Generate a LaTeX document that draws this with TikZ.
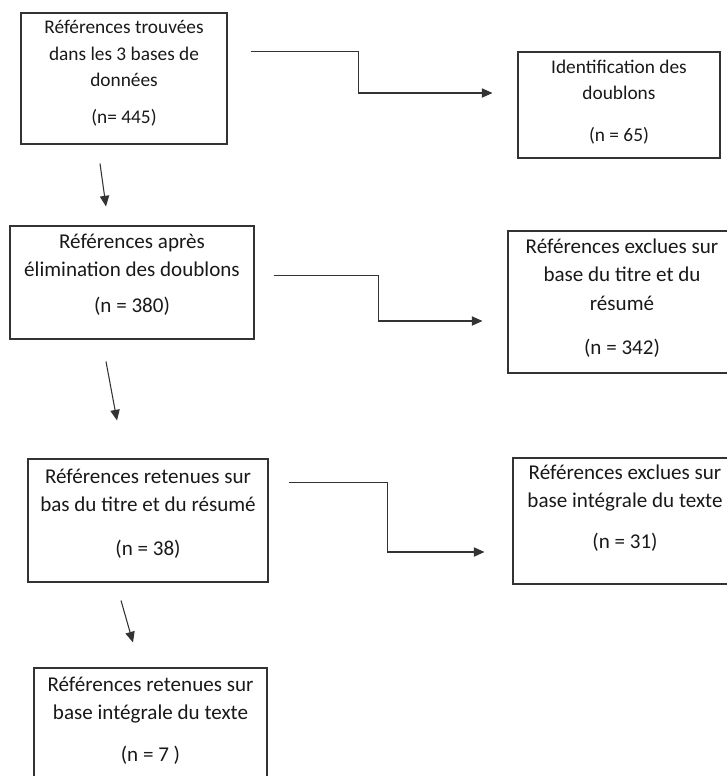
\documentclass[tikz,border=0pt]{standalone}
\usepackage{fontspec}
\setmainfont{Carlito}
\usetikzlibrary{arrows.meta,positioning}

\begin{document}
\begin{tikzpicture}[
    x=0.75pt, y=-0.75pt,
    box/.style={rectangle, draw=black!80, line width=0.8pt},
    txt/.style={align=center, inner sep=0pt, text=black!90, font=\fontsize{15.8}{21.3}\selectfont},
    txts/.style={txt, font=\fontsize{14.5}{19.6}\selectfont},
    arr/.style={-{Triangle[length=8pt, width=7pt]}, line width=0.8pt, draw=black!80}
  ]
    \useasboundingbox (0,0) rectangle (727,776);
    \clip (0,0) rectangle (727,776);
    \node[box, minimum width=154.5pt, minimum height=98.25pt] (trouv) at (124,78.5) {};
    \node[box, minimum width=151.5pt, minimum height=79.5pt] (doubl) at (619,105) {};
    \node[box, minimum width=183pt, minimum height=84.75pt] (apres) at (132,282.5) {};
    \node[box, minimum width=171pt, minimum height=106.5pt] (excl1) at (622,302) {};
    \node[box, minimum width=180pt, minimum height=92.25pt] (ret1) at (148,520.5) {};
    \node[box, minimum width=168pt, minimum height=94.5pt] (excl2) at (625,521) {};
    \node[box, minimum width=174.75pt, minimum height=91.5pt] (ret2) at (150.5,729) {};
    \node[txts, below=6pt of trouv.north] (trouvT) {Références trouvées\\dans les 3 bases de\\données\\[8.25pt](n= 445)};
    \node[txts, below=6pt of doubl.north] (doublT) {Identification des\\doublons\\[12pt](n = 65)};
    \node[txt, below=6pt of apres.north] (apresT) {Références après\\élimination des doublons\\[6pt](n = 380)};
    \node[txt, below=6pt of excl1.north] (excl1T) {Références exclues sur\\base du titre et du\\résumé\\[12pt](n = 342)};
    \node[txt, below=7.5pt of ret1.north] (ret1T) {Références retenues sur\\bas du titre et du résumé\\[12pt](n = 38)};
    \node[txt, below=5.25pt of excl2.north] (excl2T) {Références exclues sur\\base intégrale du texte\\[9pt](n = 31)};
    \node[txt, below=6.75pt of ret2.north] (ret2T) {Références retenues sur\\base intégrale du texte\\[10.5pt](n = 7 )};
    \coordinate (s1) at ([shift={(23,39)}]trouv.north east);
    \coordinate (e1) at ([shift={(-25,-12)}]doubl.west);
    \coordinate (s2) at ([shift={(19,50)}]apres.north east);
    \coordinate (e2) at ([shift={(-25,19)}]excl1.west);
    \coordinate (s3) at ([shift={(20,24)}]ret1.north east);
    \coordinate (e3) at ([shift={(-28,31)}]excl2.west);
    \coordinate (d1) at ([shift={(-24,19)}]trouv.south);
    \coordinate (f1) at ([shift={(-26,-19)}]apres.north);
    \coordinate (d2) at ([shift={(-26,22)}]apres.south);
    \coordinate (f2) at ([shift={(-31,-38)}]ret1.north);
    \coordinate (d3) at ([shift={(-27,18)}]ret1.south);
    \coordinate (f3) at ([shift={(-17.5,-25)}]ret2.north);
    \draw[arr] (s1) -- ++(108,0) |- (e1);
    \draw[arr] (s2) -- ++(105,0) |- (e2);
    \draw[arr] (s3) -- ++(99,0) |- (e3);
    \draw[arr] (d1) -- (f1);
    \draw[arr] (d2) -- (f2);
    \draw[arr] (d3) -- (f3);
  \end{tikzpicture}
\end{document}
